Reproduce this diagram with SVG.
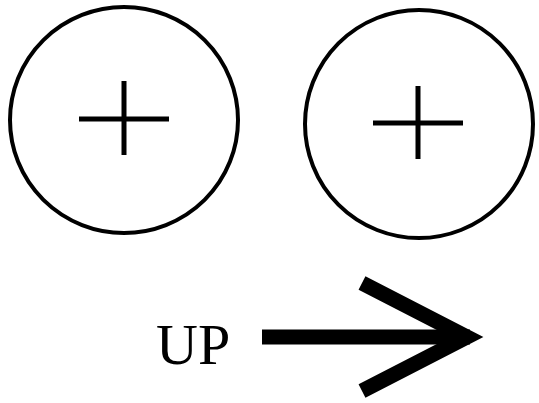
<svg xmlns="http://www.w3.org/2000/svg" width="539" height="403" viewBox="0 0 539 403">
<style>
.ring{fill:none;stroke:#000;stroke-width:4}
.plus{fill:none;stroke:#000;stroke-width:5}
.arrow{fill:none;stroke:#000;stroke-width:15;stroke-linejoin:miter}
.lbl{font-family:"Liberation Serif","Times New Roman",serif;font-size:58px;fill:#000}
</style>
<rect width="539" height="403" fill="#fff"/>
<g id="circle-left">
<ellipse class="ring" cx="124" cy="120" rx="114" ry="113"/>
<path class="plus" d="M79 119H169M124 81V155"/>
</g>
<g id="circle-right">
<ellipse class="ring" cx="419" cy="124" rx="114" ry="114"/>
<path class="plus" d="M373 123H463M418 86V159"/>
</g>
<g id="connectors">
<path class="arrow" d="M262 337H470"/>
<path class="arrow" d="M362 283L467 337L362 391"/>
</g>
<g id="label">
<text class="lbl" x="156" y="364">UP</text>
</g>
</svg>
